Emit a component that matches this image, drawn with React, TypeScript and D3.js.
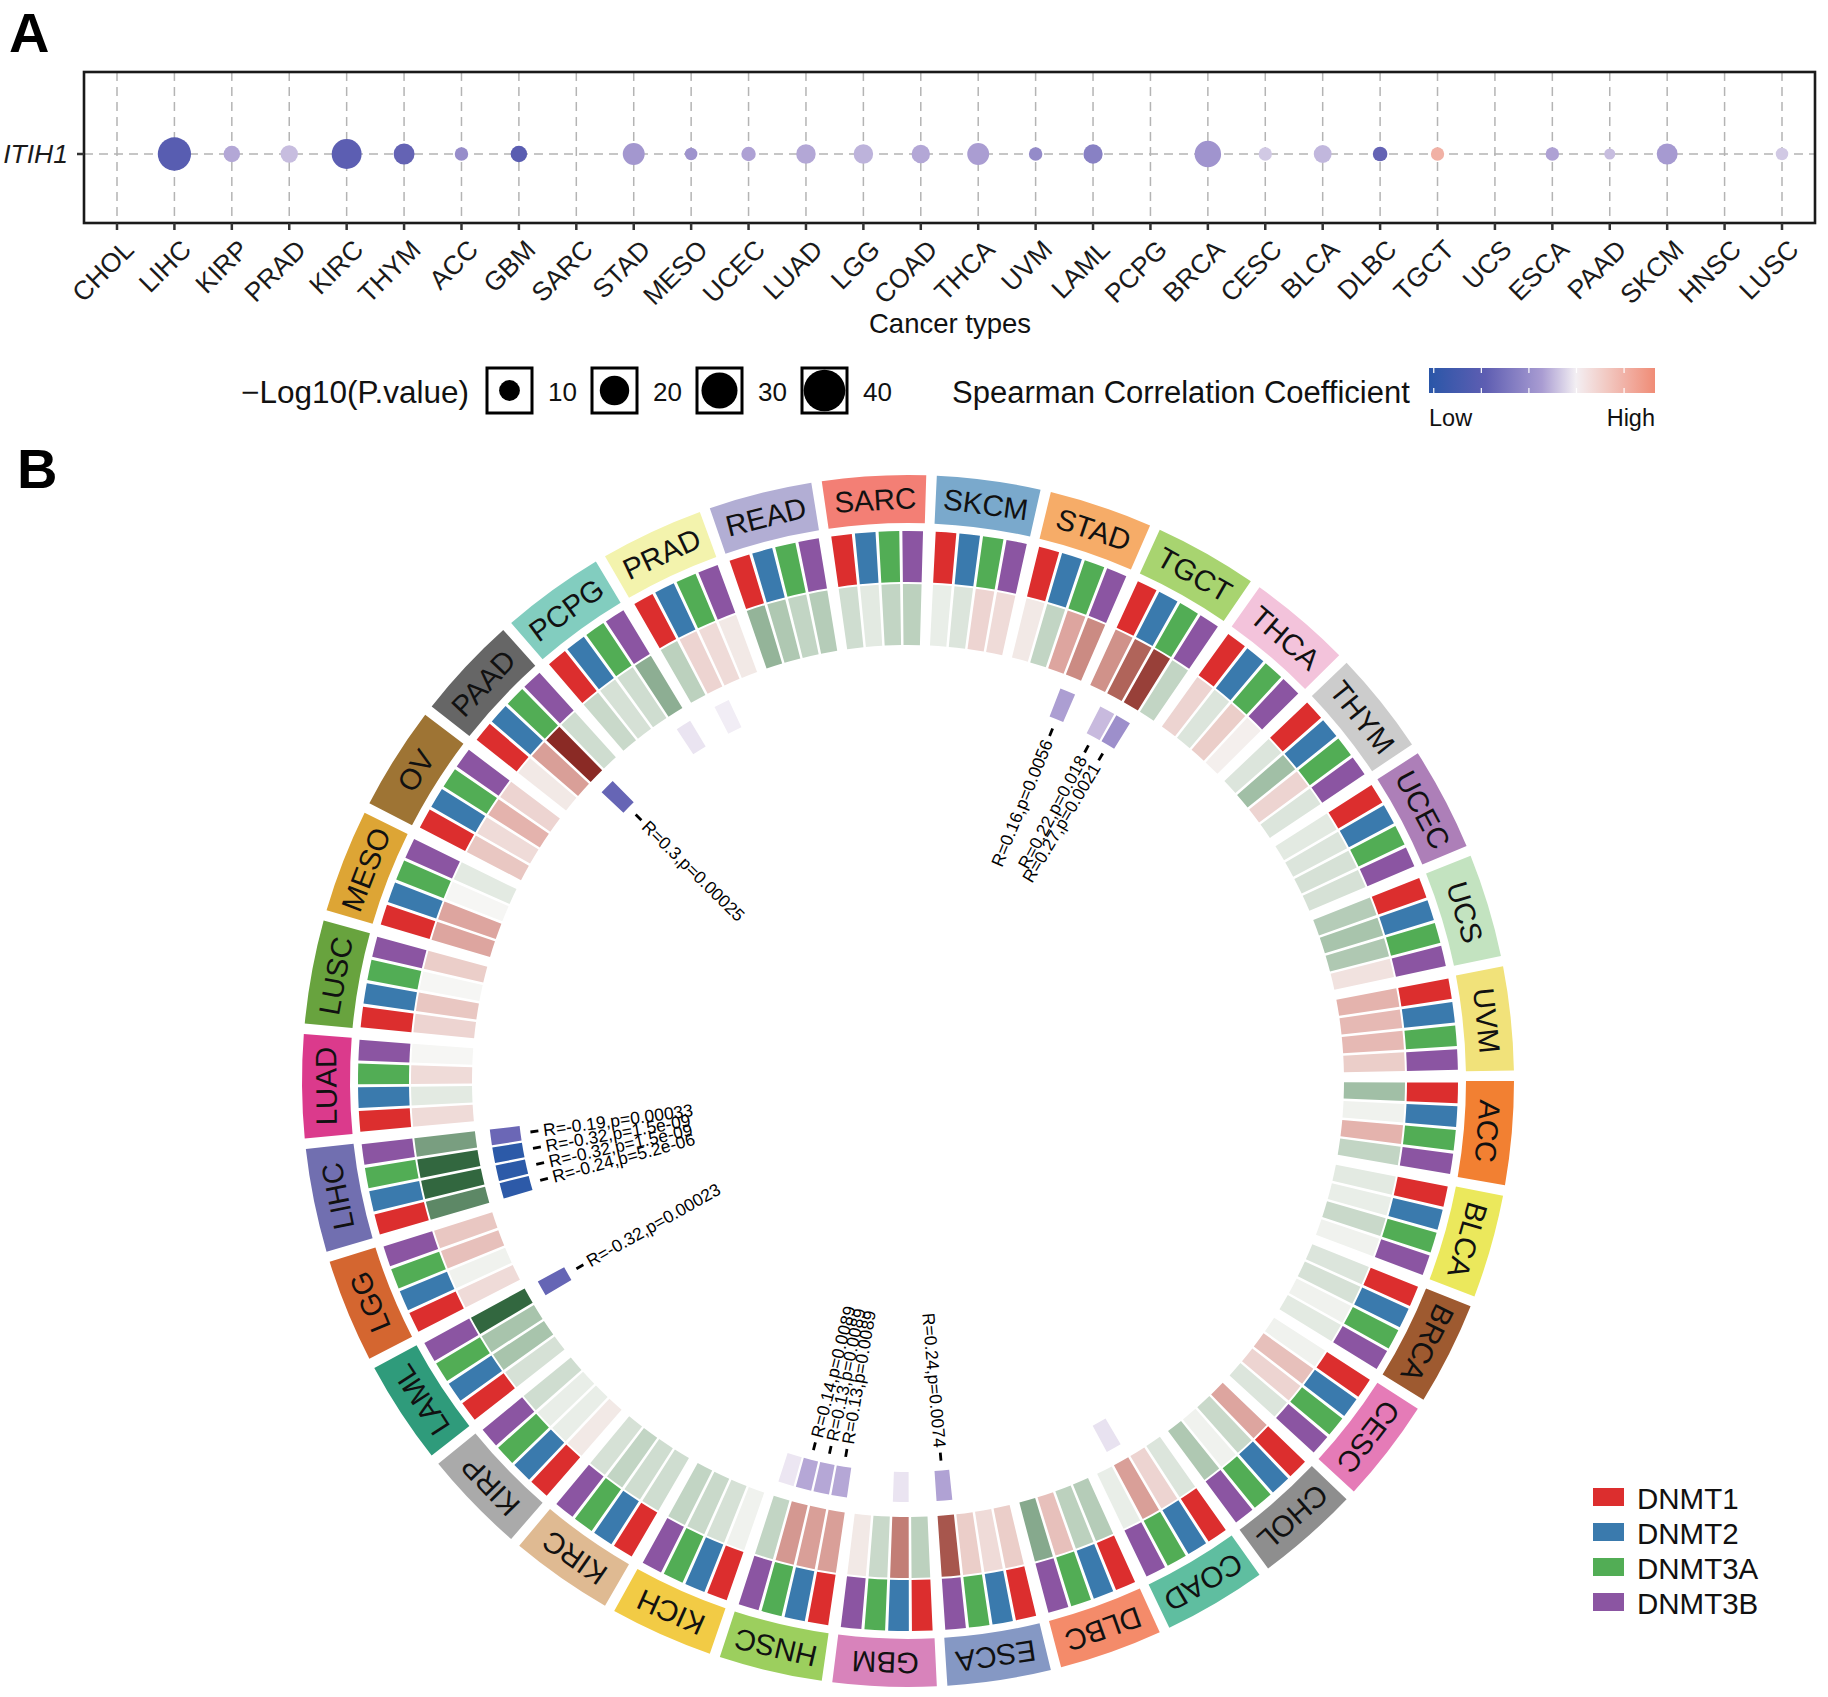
import React from "react";
import * as d3 from "d3";

const W = 1828;
const H = 1697;
const FONT = "'Liberation Sans', Arial, Helvetica, sans-serif";

// ---------------- Panel A data ----------------
const cancersA = ["CHOL","LIHC","KIRP","PRAD","KIRC","THYM","ACC","GBM","SARC","STAD","MESO","UCEC","LUAD","LGG","COAD","THCA","UVM","LAML","PCPG","BRCA","CESC","BLCA","DLBC","TGCT","UCS","ESCA","PAAD","SKCM","HNSC","LUSC"];
const corrA: (number | null)[] = [null,-0.305,-0.163,-0.144,-0.296,-0.282,-0.201,-0.30,null,-0.182,-0.19,-0.168,-0.163,-0.153,-0.163,-0.172,-0.206,-0.225,null,-0.187,-0.134,-0.149,-0.282,0.003,null,-0.168,-0.144,-0.177,null,-0.134];
const logPA: (number | null)[] = [null,25.6,6.3,7.0,20.7,10.1,4.2,6.3,null,11.1,3.6,4.8,8.8,8.8,7.9,11.1,4.2,8.6,null,16.2,4.1,7.4,4.9,4.1,null,4.2,2.8,10.1,null,3.6];
const geneA = "ITIH1";
const sizeBreaks = [10, 20, 30, 40];
const corrLimitsA = [-0.41, 0.065];
const corrStopsA = [0, 0.25, 0.5, 0.65, 1];
const corrColorsA = ["#2a56a8", "#5e5eb2", "#a99cd2", "#f3eff3", "#f08c76"];
const colorbarTicks = [-0.4, -0.3, -0.2, -0.1, 0.0];

// ---------------- Panel B data ----------------
const cancersB = ["ACC","BLCA","BRCA","CESC","CHOL","COAD","DLBC","ESCA","GBM","HNSC","KICH","KIRC","KIRP","LAML","LGG","LIHC","LUAD","LUSC","MESO","OV","PAAD","PCPG","PRAD","READ","SARC","SKCM","STAD","TGCT","THCA","THYM","UCEC","UCS","UVM"];
const cancerColors = ["#f28032","#ebe85c","#9e5a30","#e57bb7","#8e8e8e","#5fbea0","#f48b6a","#8598c4","#d883bb","#9ccf5e","#f2cb45","#dfba92","#aaaaaa","#2f9b7b","#d46630","#716fb0","#db3a8c","#68a33e","#dda535","#9e7434","#666666","#82cdbf","#f3f3ad","#b2aed4","#f37f75","#7aa9cc","#f6ac68","#a8d470","#f3c3db","#cccccc","#ad7fb8","#c3e3c0","#f1e27a"];
const genes = ["DNMT1","DNMT2","DNMT3A","DNMT3B"];
const geneColors = ["#dc2e2e","#3a7aad","#52ad55","#8b55a2"];

const corrDNMT1 = [-0.13,-0.03,-0.04,-0.01,0.12,-0.04,-0.10,0.06,-0.09,0.13,-0.01,-0.06,0.02,-0.05,0.04,-0.24,0.04,0.05,0.12,0.07,0.02,-0.07,-0.09,-0.15,-0.06,-0.02,0.02,0.15,0.05,-0.04,-0.03,-0.10,0.10];
const corrDNMT2 = [-0.01,-0.02,-0.05,0.08,-0.07,0.05,-0.09,0.04,0.18,0.13,-0.05,-0.06,-0.02,-0.12,-0.01,-0.32,-0.03,0.07,0.12,0.04,0.13,-0.05,0.05,-0.11,-0.03,-0.04,-0.08,0.22,-0.04,-0.13,-0.04,-0.12,0.09];
const corrDNMT3A = [0.10,-0.07,-0.01,0.05,-0.01,0.13,0.08,0.06,-0.07,0.14,-0.07,-0.08,-0.02,-0.12,0.08,-0.32,0.04,0.00,0.00,0.10,0.30,-0.06,0.04,-0.08,-0.08,0.05,0.12,0.27,0.06,0.05,-0.05,-0.11,0.09];
const corrDNMT3B = [-0.08,-0.01,-0.03,-0.04,-0.11,-0.02,-0.17,0.24,0.02,-0.08,-0.08,-0.05,-0.06,-0.32,0.07,-0.19,0.00,0.06,-0.03,0.05,-0.06,-0.16,0.02,-0.10,-0.09,0.04,0.16,-0.08,0.01,-0.04,-0.05,0.03,0.06];

// cells of the inner ring (p values of the correlations)
const sigCancer = ["PAAD","STAD","TGCT","TGCT","LIHC","LIHC","LIHC","LIHC","LAML","HNSC","HNSC","HNSC","ESCA","HNSC","GBM","COAD","PCPG","PRAD"];
const sigGene = ["DNMT3A","DNMT3B","DNMT2","DNMT3A","DNMT1","DNMT2","DNMT3A","DNMT3B","DNMT3B","DNMT1","DNMT2","DNMT3A","DNMT3B","DNMT3B","DNMT2","DNMT3A","DNMT3B","DNMT2"];
const sigP = [0.00025,0.0056,0.018,0.0021,5.2e-6,1.5e-9,1.5e-9,0.00033,0.00023,0.0089,0.0089,0.0089,0.0074,0.08,0.075,0.07,0.075,0.11];

const heatDomain = [-0.34, -0.2, -0.12, 0, 0.11, 0.22, 0.3];
const heatColors = ["#275f35", "#72987a", "#a8c4ac", "#f6f6f4", "#e2aca6", "#b0645a", "#8a2a25"];
const sigDomain = [1, 1.74, 2.13, 2.68, 3.5, 5.3];
const sigColors = ["#f1edf5", "#c8bade", "#b0a2d4", "#9d8fcb", "#6a66b6", "#2c5aa8"];

function fmtP(p: number): string {
  if (p < 1e-4) {
    const [m, e] = p.toExponential(1).split("e");
    const ex = parseInt(e, 10);
    return `${m}e${ex < 0 ? "-" : "+"}${String(Math.abs(ex)).padStart(2, "0")}`;
  }
  return String(p);
}

export default function App() {
  // ---- Panel A scales ----
  const x = d3.scalePoint<string>().domain(cancersA).range([117, 1782]);
  const rSize = d3.scaleSqrt().domain([0, 40]).range([0, 20.8]);
  const lo = corrLimitsA[0], hi = corrLimitsA[1];
  const colA = d3.scaleLinear<string>()
    .domain(corrStopsA.map((f) => lo + f * (hi - lo)))
    .range(corrColorsA)
    .clamp(true);
  const panel = { x0: 84, x1: 1815, y0: 72, y1: 223 };
  const dotY = 154;

  // colorbar
  const cb = { x: 1429, y: 368, w: 226, h: 25 };
  const cbScale = d3.scaleLinear().domain([lo, hi]).range([cb.x, cb.x + cb.w]);

  // ---- Panel B scales ----
  const cx = 908, cy = 1081;
  const stepDeg = 360 / cancersB.length;
  const padIn = 1 / stepDeg;
  const sector = d3.scaleBand<string>()
    .domain(cancersB)
    .range([90 - 0.5, 450 - 0.5])
    .paddingInner(padIn)
    .paddingOuter(padIn / 2);
  const bw = sector.bandwidth();
  const geneBand = d3.scaleBand<string>().domain(genes).range([0, bw]).paddingInner(0.13).paddingOuter(0.065);
  const heatCol = d3.scaleLinear<string>().domain(heatDomain).range(heatColors).clamp(true);
  const sigCol = d3.scaleLinear<string>().domain(sigDomain).range(sigColors).clamp(true);
  const arc = d3.arc<any>();
  const deg = Math.PI / 180;
  const arcPath = (r0: number, r1: number, a0: number, a1: number) =>
    arc({ innerRadius: r0, outerRadius: r1, startAngle: a0 * deg, endAngle: a1 * deg }) as string;

  const corrByGene = [corrDNMT1, corrDNMT2, corrDNMT3A, corrDNMT3B];
  const R = {
    labIn: 558, labOut: 606, labText: 582,
    geneIn: 499, geneOut: 550,
    heatIn: 436, heatOut: 497,
    sigIn: 391, sigOut: 421,
    dashOut: 381, dashIn: 373, textR: 368,
  };

  const cells: JSX.Element[] = [];
  cancersB.forEach((c, i) => {
    const a0 = sector(c)!;
    cells.push(
      <path key={`lab-${c}`} d={arcPath(R.labIn, R.labOut, a0, a0 + bw)} fill={cancerColors[i]} transform={`translate(${cx},${cy})`} />
    );
    const mid = a0 + bw / 2;
    cells.push(
      <text key={`labt-${c}`} transform={`translate(${cx},${cy}) rotate(${mid})`} x={0} y={-R.labText}
        textAnchor="middle" dominantBaseline="central" fontSize={29.5} fill="#111">{c}</text>
    );
    genes.forEach((g, j) => {
      const s = a0 + geneBand(g)!;
      const e = s + geneBand.bandwidth();
      cells.push(
        <path key={`g-${c}-${g}`} d={arcPath(R.geneIn, R.geneOut, s, e)} fill={geneColors[j]} transform={`translate(${cx},${cy})`} />
      );
      cells.push(
        <path key={`h-${c}-${g}`} d={arcPath(R.heatIn, R.heatOut, s, e)} fill={heatCol(corrByGene[j][i])} transform={`translate(${cx},${cy})`} />
      );
    });
  });

  const sigEls: JSX.Element[] = [];
  sigCancer.forEach((c, k) => {
    const i = cancersB.indexOf(c);
    const j = genes.indexOf(sigGene[k]);
    const s = sector(c)! + geneBand(sigGene[k])!;
    const e = s + geneBand.bandwidth();
    const p = sigP[k];
    sigEls.push(
      <path key={`s-${k}`} d={arcPath(R.sigIn, R.sigOut, s, e)} fill={sigCol(-Math.log10(p))} transform={`translate(${cx},${cy})`} />
    );
    if (p < 0.05) {
      const mid = (s + e) / 2;
      const norm = ((mid % 360) + 360) % 360;
      const leftHalf = norm > 180;
      const label = `R=${corrByGene[j][i]},p=${fmtP(p)}`;
      sigEls.push(
        <g key={`sl-${k}`} transform={`translate(${cx},${cy}) rotate(${mid})`}>
          <line x1={0} x2={0} y1={-R.dashOut} y2={-R.dashIn} stroke="#000" strokeWidth={2.8} />
          <text transform={`translate(0,${-R.textR}) rotate(${leftHalf ? 90 : -90})`}
            textAnchor={leftHalf ? "start" : "end"} dominantBaseline="central" fontSize={17.5} fill="#000">{label}</text>
        </g>
      );
    }
  });

  const gradStops = d3.range(0, 1.0001, 0.05).map((f) => ({ f, c: colA(lo + f * (hi - lo)) }));

  return (
    <svg width={W} height={H} viewBox={`0 0 ${W} ${H}`} fontFamily={FONT}
      style={{ position: "absolute", left: 0, top: 0, display: "block", background: "#fff" }}>
      <defs>
        <linearGradient id="cbgrad" x1="0" x2="1" y1="0" y2="0">
          {gradStops.map((s) => <stop key={s.f} offset={s.f} stopColor={s.c} />)}
        </linearGradient>
      </defs>
      <rect x={0} y={0} width={W} height={H} fill="#fff" />

      {/* ---------- Panel A ---------- */}
      <text x={9} y={52} fontSize={56} fontWeight="bold" fill="#000">A</text>
      {cancersA.map((c) => (
        <line key={`vg-${c}`} x1={x(c)} x2={x(c)} y1={panel.y0} y2={panel.y1} stroke="#b4b4b4" strokeWidth={1.5} strokeDasharray="9,6" />
      ))}
      <line x1={panel.x0} x2={panel.x1} y1={dotY} y2={dotY} stroke="#b4b4b4" strokeWidth={1.5} strokeDasharray="9,6" />
      {cancersA.map((c, i) => (corrA[i] == null || logPA[i] == null) ? null : (
        <circle key={`dot-${c}`} cx={x(c)} cy={dotY} r={rSize(logPA[i] as number)} fill={colA(corrA[i] as number)} />
      ))}
      <rect x={panel.x0} y={panel.y0} width={panel.x1 - panel.x0} height={panel.y1 - panel.y0} fill="none" stroke="#1a1a1a" strokeWidth={2.6} />
      <line x1={panel.x0 - 7} x2={panel.x0} y1={dotY} y2={dotY} stroke="#333" strokeWidth={2.5} />
      <text x={panel.x0 - 16} y={dotY} textAnchor="end" dominantBaseline="central" fontSize={26.5} fontStyle="italic" fill="#1a1a1a">{geneA}</text>
      {cancersA.map((c) => (
        <g key={`tk-${c}`}>
          <line x1={x(c)} x2={x(c)} y1={panel.y1} y2={panel.y1 + 7} stroke="#333" strokeWidth={2.5} />
          <text transform={`translate(${(x(c) as number) + 5},${238}) rotate(-45)`} textAnchor="end" dy="0.71em" fontSize={26.5} fill="#1a1a1a">{c}</text>
        </g>
      ))}
      <text x={950} y={333} textAnchor="middle" fontSize={27.5} fill="#111">Cancer types</text>

      {/* legend: size */}
      <text x={241} y={392} dominantBaseline="central" fontSize={31.5} fill="#111">{"\u2212Log10(P.value)"}</text>
      {sizeBreaks.map((b, k) => {
        const bx = 487 + k * 105;
        return (
          <g key={`sz-${b}`}>
            <rect x={bx} y={368} width={45} height={45} fill="#fff" stroke="#000" strokeWidth={3} />
            <circle cx={bx + 22.5} cy={390.5} r={rSize(b)} fill="#000" />
            <text x={bx + 61} y={392} dominantBaseline="central" fontSize={26} fill="#111">{b}</text>
          </g>
        );
      })}
      {/* legend: colour */}
      <text x={952} y={392} dominantBaseline="central" fontSize={31} fill="#111">Spearman Correlation Coefficient</text>
      <rect x={cb.x} y={cb.y} width={cb.w} height={cb.h} fill="url(#cbgrad)" />
      {colorbarTicks.map((t) => (
        <g key={`cbt-${t}`}>
          <line x1={cbScale(t)} x2={cbScale(t)} y1={cb.y} y2={cb.y + 5} stroke="#fff" strokeWidth={1.2} />
          <line x1={cbScale(t)} x2={cbScale(t)} y1={cb.y + cb.h - 5} y2={cb.y + cb.h} stroke="#fff" strokeWidth={1.2} />
        </g>
      ))}
      <text x={cb.x} y={426} fontSize={23.5} fill="#111">Low</text>
      <text x={cb.x + cb.w} y={426} textAnchor="end" fontSize={23.5} fill="#111">High</text>

      {/* ---------- Panel B ---------- */}
      <text x={17} y={488} fontSize={56} fontWeight="bold" fill="#000">B</text>
      {cells}
      {sigEls}

      {/* gene legend */}
      {genes.map((g, j) => (
        <g key={`gl-${g}`}>
          <rect x={1593} y={1488 + j * 35} width={31} height={18} fill={geneColors[j]} />
          <text x={1637} y={1498 + j * 35} dominantBaseline="central" fontSize={29.5} fill="#111">{g}</text>
        </g>
      ))}
    </svg>
  );
}
